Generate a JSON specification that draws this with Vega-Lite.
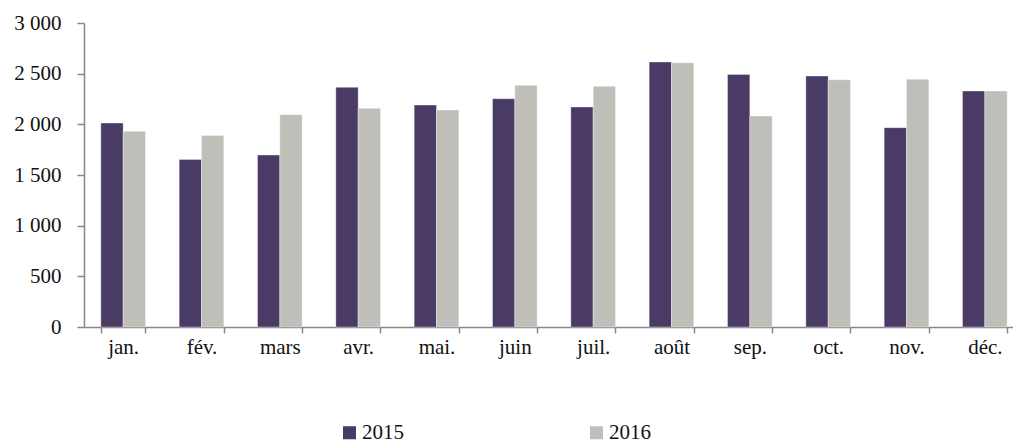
{
  "$schema": "https://vega.github.io/schema/vega-lite/v6.json",
  "autosize": {"type": "none"},
  "padding": {"left": 84, "top": 23, "right": 0, "bottom": 116},
  "width": 929,
  "height": 304,
  "background": "white",
  "config": {"view": {"stroke": null}, "font": "Liberation Serif"},
  "data": {"values": [
    {"mois": "jan.", "annee": "2015", "valeur": 2013},
    {"mois": "jan.", "annee": "2016", "valeur": 1931},
    {"mois": "fév.", "annee": "2015", "valeur": 1654},
    {"mois": "fév.", "annee": "2016", "valeur": 1891},
    {"mois": "mars", "annee": "2015", "valeur": 1697},
    {"mois": "mars", "annee": "2016", "valeur": 2095},
    {"mois": "avr.", "annee": "2015", "valeur": 2365},
    {"mois": "avr.", "annee": "2016", "valeur": 2158},
    {"mois": "mai.", "annee": "2015", "valeur": 2190},
    {"mois": "mai.", "annee": "2016", "valeur": 2141},
    {"mois": "juin", "annee": "2015", "valeur": 2253},
    {"mois": "juin", "annee": "2016", "valeur": 2385},
    {"mois": "juil.", "annee": "2015", "valeur": 2171},
    {"mois": "juil.", "annee": "2016", "valeur": 2375},
    {"mois": "août", "annee": "2015", "valeur": 2615},
    {"mois": "août", "annee": "2016", "valeur": 2608},
    {"mois": "sep.", "annee": "2015", "valeur": 2493},
    {"mois": "sep.", "annee": "2016", "valeur": 2082},
    {"mois": "oct.", "annee": "2015", "valeur": 2477},
    {"mois": "oct.", "annee": "2016", "valeur": 2440},
    {"mois": "nov.", "annee": "2015", "valeur": 1967},
    {"mois": "nov.", "annee": "2016", "valeur": 2444},
    {"mois": "déc.", "annee": "2015", "valeur": 2329},
    {"mois": "déc.", "annee": "2016", "valeur": 2329}
  ]},
  "mark": {"type": "bar", "stroke": "#ffffff", "strokeWidth": 0.6, "strokeOpacity": 0.6},
  "encoding": {
    "x": {
      "field": "mois", "type": "nominal", "sort": null,
      "scale": {"range": [0, 940], "paddingInner": 0.43, "paddingOuter": 0.215},
      "axis": {
        "title": null, "labelAngle": 0, "tickBand": "extent", "tickSize": 6,
        "domainColor": "#888888", "tickColor": "#888888", "domainWidth": 1.5, "tickWidth": 1.5,
        "labelFont": "Liberation Serif", "labelFontSize": 21, "labelColor": "#111111", "labelPadding": 3
      }
    },
    "xOffset": {"field": "annee", "type": "nominal"},
    "y": {
      "field": "valeur", "type": "quantitative",
      "scale": {"domain": [0, 3000], "nice": false},
      "axis": {
        "title": null, "grid": false, "values": [0, 500, 1000, 1500, 2000, 2500, 3000],
        "labelExpr": "replace(format(datum.value, ','), ',', ' ')",
        "tickSize": 7, "labelPadding": 16,
        "domainColor": "#888888", "tickColor": "#888888", "domainWidth": 1.5, "tickWidth": 1.5,
        "labelFont": "Liberation Serif", "labelFontSize": 21, "labelColor": "#111111"
      }
    },
    "color": {
      "field": "annee", "type": "nominal",
      "scale": {"domain": ["2015", "2016"], "range": ["#493a66", "#bfbeb9"]},
      "legend": {
        "title": null, "orient": "none", "direction": "horizontal",
        "legendX": 255, "legendY": 399,
        "symbolType": "square", "symbolSize": 169, "symbolStrokeWidth": 0, "symbolOpacity": 1,
        "labelFont": "Liberation Serif", "labelFontSize": 21, "labelColor": "#111111",
        "labelOffset": 2, "columnPadding": 182
      }
    }
  }
}
